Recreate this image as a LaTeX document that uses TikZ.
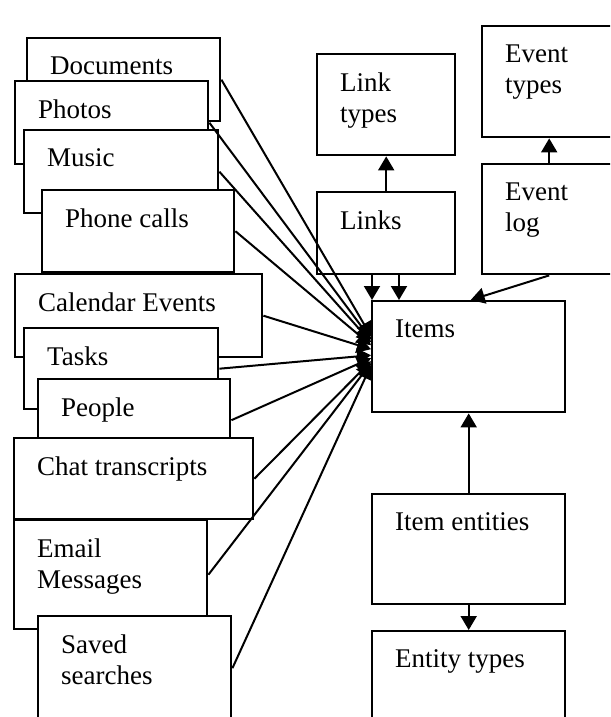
\documentclass[tikz,border=0pt]{standalone}
\usepackage{fontspec}
\setmainfont{Liberation Serif}
\usetikzlibrary{arrows.meta,calc}
\tikzset{
  box/.style={draw, line width=2.4pt, fill=white, inner sep=0pt, anchor=north west},
  lbl/.style={inner sep=0pt, anchor=north west, align=left, font=\fontsize{27}{31}\selectfont},
  arr/.style={line width=2pt, -{Triangle[width=16pt,length=14pt]}},
}
\newcommand\bx[6]{%
  \node[box, minimum width={(#4)-(#2)}, minimum height={(#5)-(#3)}] (#1) at (#2,#3) {};
  \node[lbl] (#1t) at (#2+24,#3+19.6) {#6};}
\begin{document}
\begin{tikzpicture}[x=1pt,y=-1pt]
\useasboundingbox (0,0) rectangle (610,717);
\clip (0,0) rectangle (610,717);
% left stack
\bx{doc}{26}{37}{219}{120}{Documents}
\bx{pho}{14}{80}{207}{163}{Photos}
\bx{mus}{23}{129}{217}{212}{Music}
\bx{pcl}{41}{189}{233}{271}{Phone calls}
\bx{cal}{14}{273}{261}{356}{Calendar Events}
\bx{tsk}{23}{327}{217}{408}{Tasks}
\bx{ppl}{37}{378}{229}{460}{People}
\bx{cht}{13}{437}{252}{518}{Chat transcripts}
\bx{eml}{13}{519}{206}{628}{Email\\Messages}
\bx{svd}{37}{615}{230}{719}{Saved\\searches}
% right side
\bx{ltp}{316}{53}{454}{154}{Link\\types}
\bx{lnk}{316}{191}{454}{273}{Links}
\bx{etp}{481}{25}{615}{136}{Event\\types}
\bx{elg}{481}{163}{615}{273}{Event\\log}
\bx{itm}{371}{300}{564}{411}{Items}
\bx{ien}{371}{493}{564}{603}{Item entities}
\bx{ent}{371}{630}{564}{740}{Entity types}
% connectors on the right
\draw[arr] (lnk.north) -- (ltp.south);
\draw[arr] (elg.north) -- (etp.south);
\draw[arr] ([xshift=56pt]lnk.south west) -- ([xshift=56pt]lnk.south west |- itm.north);
\draw[arr] ([xshift=83pt]lnk.south west) -- ([xshift=83pt]lnk.south west |- itm.north);
\draw[arr] (elg.south) -- ([xshift=2pt]itm.north);
\draw[arr] (ien.north) -- (itm.south);
\draw[arr] (ien.south) -- (ent.north);
% connectors from the left stack
\draw[arr] (doc.east) -- ([yshift=20.5pt]itm.west);
\draw[arr] (pho.east) -- ([yshift=17.5pt]itm.west);
\draw[arr] (mus.east) -- ([yshift=14.5pt]itm.west);
\draw[arr] (pcl.east) -- ([yshift=11.5pt]itm.west);
\draw[arr] (cal.east) -- ([yshift=7.5pt]itm.west);
\draw[arr] (tsk.east) -- ([yshift=1.5pt]itm.west);
\draw[arr] (ppl.east) -- ([yshift=-1.5pt]itm.west);
\draw[arr] (cht.east) -- ([yshift=-4.5pt]itm.west);
\draw[arr] (eml.east) -- ([yshift=-6.5pt]itm.west);
\draw[arr] (svd.east) -- ([yshift=-8.5pt]itm.west);
\end{tikzpicture}
\end{document}
